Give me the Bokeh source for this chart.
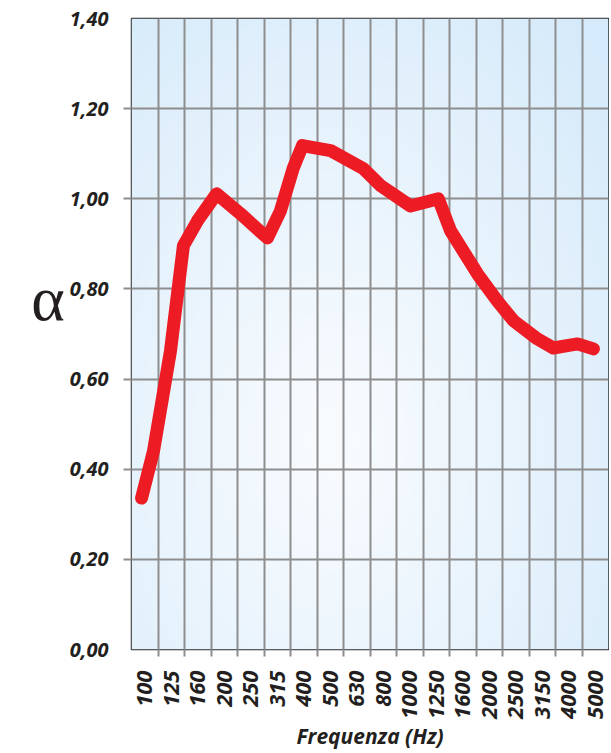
import numpy as np
from bokeh.plotting import figure
from bokeh.models import FixedTicker, CustomJSTickFormatter, Range1d
from bokeh.embed import file_html
from bokeh.resources import INLINE
from math import pi

# ---- data ----
freq_labels = ["100", "125", "160", "200", "250", "315", "400", "500", "630",
               "800", "1000", "1250", "1600", "2000", "2500", "3150", "4000", "5000"]
# curve traced along the band axis (band index position, absorption coefficient)
curve_pos = [0.38, 0.83, 1.47, 1.96, 2.49, 3.21, 4.11, 5.13, 5.62, 6.11, 6.45,
             7.51, 8.75, 9.40, 10.53, 11.58, 12.04, 13.06, 13.81, 14.42, 15.32,
             15.92, 16.83, 17.43]
curve_alpha = [0.336, 0.44, 0.662, 0.896, 0.951, 1.011, 0.967, 0.913, 0.973, 1.069, 1.118,
               1.107, 1.067, 1.029, 0.984, 1.0, 0.929, 0.833, 0.773, 0.729, 0.689,
               0.669, 0.678, 0.667]
y_ticks = [0.0, 0.2, 0.4, 0.6, 0.8, 1.0, 1.2, 1.4]
y_tick_labels = ["0,00", "0,20", "0,40", "0,60", "0,80", "1,00", "1,20", "1,40"]
y_grid = [0.2, 0.4, 0.6, 0.8, 1.0, 1.2]

n = len(freq_labels)
band_centers = [i + 0.5 for i in range(n)]
band_edges = [i for i in range(1, n)]

p = figure(width=609, height=753, x_range=Range1d(0, n), y_range=Range1d(0, 1.4),
           output_backend="svg", toolbar_location=None,
           min_border_left=131, min_border_right=1, min_border_top=18, min_border_bottom=104,
           background_fill_color="white", border_fill_color="white")

# background gradient
ny, nx = 140, 180
yy, xx = np.mgrid[0:1:ny * 1j, 0:1:nx * 1j]
d = np.sqrt(((xx - 0.42) / 0.8) ** 2 + ((yy - 0.33) / 0.9) ** 2)
d = np.clip(d, 0, 1) ** 1.1
c_in = np.array([249, 252, 255], dtype=float)
c_out = np.array([213, 234, 250], dtype=float)
col = c_in + (c_out - c_in) * d[..., None]
img = np.zeros((ny, nx), dtype=np.uint32)
view = img.view(dtype=np.uint8).reshape((ny, nx, 4))
view[..., 0] = col[..., 0].astype(np.uint8)
view[..., 1] = col[..., 1].astype(np.uint8)
view[..., 2] = col[..., 2].astype(np.uint8)
view[..., 3] = 255
p.image_rgba(image=[img], x=0, y=0, dw=n, dh=1.4, level="image")

# grid
p.xgrid.ticker = FixedTicker(ticks=band_edges)
p.ygrid.ticker = FixedTicker(ticks=y_grid)
for g in (p.xgrid, p.ygrid):
    g.grid_line_color = "#8e8e8e"
    g.grid_line_width = 2

p.outline_line_color = "#2a2a2a"
p.outline_line_width = 1.5

# curve
p.line(curve_pos, curve_alpha, line_color="#ed1c24", line_width=13,
       line_cap="round", line_join="round")

font = "Open Sans"
# x axis
xa = p.xaxis[0]
xa.ticker = FixedTicker(ticks=band_centers, minor_ticks=band_edges)
xa.formatter = CustomJSTickFormatter(args=dict(labs=freq_labels),
                                     code="return labs[Math.floor(tick)];")
xa.major_label_orientation = pi / 2
xa.major_tick_line_color = None
xa.major_tick_out = 7
xa.major_tick_in = 0
xa.minor_tick_out = 7
xa.minor_tick_in = 0
xa.minor_tick_line_color = "#8e8e8e"
xa.minor_tick_line_width = 2
xa.axis_line_color = None
xa.major_label_standoff = 14
xa.major_label_text_font = font
xa.major_label_text_font_style = "bold italic"
xa.major_label_text_font_size = "22px"
xa.major_label_text_color = "#231f20"
xa.axis_label = "Frequenza (Hz)"
xa.axis_label_text_font = font
xa.axis_label_text_font_style = "bold italic"
xa.axis_label_text_font_size = "21px"
xa.axis_label_text_color = "#231f20"
xa.axis_label_standoff = 0

# y axis
ya = p.yaxis[0]
ya.ticker = FixedTicker(ticks=y_ticks, minor_ticks=y_grid)
ya.formatter = CustomJSTickFormatter(args=dict(tv=y_ticks, labs=y_tick_labels), code="""
let best = 0;
for (let i = 0; i < tv.length; i++) {
  if (Math.abs(tv[i] - tick) < Math.abs(tv[best] - tick)) best = i;
}
return labs[best];
""")
ya.major_tick_line_color = None
ya.major_tick_out = 8
ya.major_tick_in = 0
ya.minor_tick_out = 8
ya.minor_tick_in = 0
ya.minor_tick_line_color = "#8e8e8e"
ya.minor_tick_line_width = 2
ya.axis_line_color = None
ya.major_label_standoff = 15
ya.major_label_text_font = font
ya.major_label_text_font_style = "bold italic"
ya.major_label_text_font_size = "20px"
ya.major_label_text_color = "#231f20"
ya.axis_label = "α\n\u00a0"
ya.axis_label_orientation = "horizontal"
ya.axis_label_text_font = "Liberation Serif"
ya.axis_label_text_font_style = "normal"
ya.axis_label_text_font_size = "64px"
ya.axis_label_text_line_height = 1.0
ya.axis_label_text_color = "#231f20"
ya.axis_label_standoff = 2

open("out.html", "w").write(file_html(p, INLINE))
